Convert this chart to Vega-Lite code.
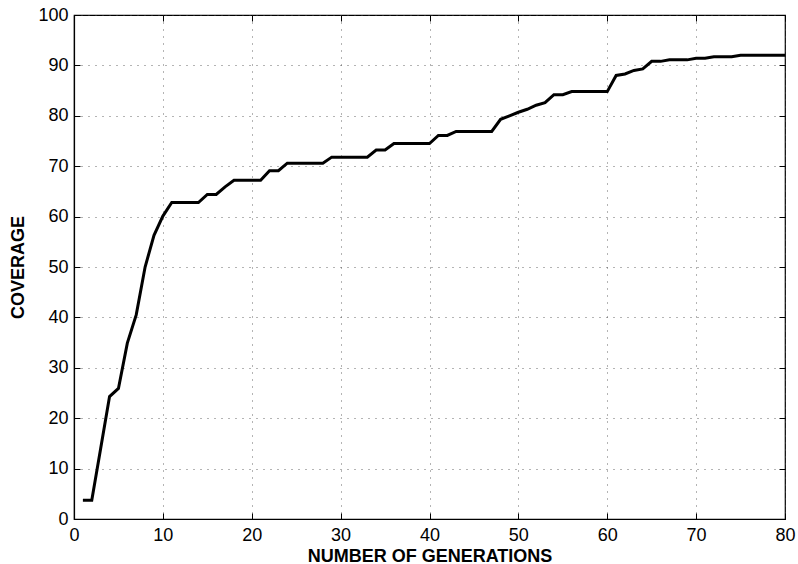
{
  "$schema": "https://vega.github.io/schema/vega-lite/v6.json",
  "width": 711,
  "height": 504,
  "autosize": {"type": "none"},
  "padding": {"left": 74, "top": 15, "right": 13, "bottom": 45},
  "background": "white",
  "config": {
    "view": {"stroke": "black", "strokeWidth": 1.2},
    "font": "Liberation Sans",
    "axis": {
      "domainColor": "black",
      "domainWidth": 1.2,
      "tickColor": "black",
      "tickWidth": 1,
      "tickSize": -6,
      "labelFont": "Liberation Sans",
      "labelFontSize": 18,
      "labelColor": "black",
      "titleFont": "Liberation Sans",
      "titleFontSize": 18,
      "titleFontWeight": "bold",
      "titleColor": "black",
      "gridColor": "#444",
      "gridDash": [1, 6],
      "gridWidth": 1,
      "gridOpacity": 0.8
    }
  },
  "data": {
    "values": [
      {"gen": 1, "cov": 3.7}, {"gen": 2, "cov": 3.7}, {"gen": 3, "cov": 14}, {"gen": 4, "cov": 24.3},
      {"gen": 5, "cov": 25.9}, {"gen": 6, "cov": 34.9}, {"gen": 7, "cov": 40.5}, {"gen": 8, "cov": 50},
      {"gen": 9, "cov": 56.3}, {"gen": 10, "cov": 60.1}, {"gen": 11, "cov": 62.8}, {"gen": 12, "cov": 62.8},
      {"gen": 13, "cov": 62.8}, {"gen": 14, "cov": 62.8}, {"gen": 15, "cov": 64.4}, {"gen": 16, "cov": 64.4},
      {"gen": 17, "cov": 65.9}, {"gen": 18, "cov": 67.2}, {"gen": 19, "cov": 67.2}, {"gen": 20, "cov": 67.2},
      {"gen": 21, "cov": 67.2}, {"gen": 22, "cov": 69.1}, {"gen": 23, "cov": 69.1}, {"gen": 24, "cov": 70.6},
      {"gen": 25, "cov": 70.6}, {"gen": 26, "cov": 70.6}, {"gen": 27, "cov": 70.6}, {"gen": 28, "cov": 70.6},
      {"gen": 29, "cov": 71.8}, {"gen": 30, "cov": 71.8}, {"gen": 31, "cov": 71.8}, {"gen": 32, "cov": 71.8},
      {"gen": 33, "cov": 71.8}, {"gen": 34, "cov": 73.2}, {"gen": 35, "cov": 73.2}, {"gen": 36, "cov": 74.5},
      {"gen": 37, "cov": 74.5}, {"gen": 38, "cov": 74.5}, {"gen": 39, "cov": 74.5}, {"gen": 40, "cov": 74.5},
      {"gen": 41, "cov": 76.1}, {"gen": 42, "cov": 76.1}, {"gen": 43, "cov": 76.9}, {"gen": 44, "cov": 76.9},
      {"gen": 45, "cov": 76.9}, {"gen": 46, "cov": 76.9}, {"gen": 47, "cov": 76.9}, {"gen": 48, "cov": 79.3},
      {"gen": 49, "cov": 80}, {"gen": 50, "cov": 80.7}, {"gen": 51, "cov": 81.3}, {"gen": 52, "cov": 82.1},
      {"gen": 53, "cov": 82.6}, {"gen": 54, "cov": 84.2}, {"gen": 55, "cov": 84.2}, {"gen": 56, "cov": 84.8},
      {"gen": 57, "cov": 84.8}, {"gen": 58, "cov": 84.8}, {"gen": 59, "cov": 84.8}, {"gen": 60, "cov": 84.8},
      {"gen": 61, "cov": 88}, {"gen": 62, "cov": 88.3}, {"gen": 63, "cov": 89}, {"gen": 64, "cov": 89.3},
      {"gen": 65, "cov": 90.8}, {"gen": 66, "cov": 90.8}, {"gen": 67, "cov": 91.1}, {"gen": 68, "cov": 91.1},
      {"gen": 69, "cov": 91.1}, {"gen": 70, "cov": 91.4}, {"gen": 71, "cov": 91.4}, {"gen": 72, "cov": 91.7},
      {"gen": 73, "cov": 91.7}, {"gen": 74, "cov": 91.7}, {"gen": 75, "cov": 92}, {"gen": 76, "cov": 92},
      {"gen": 77, "cov": 92}, {"gen": 78, "cov": 92}, {"gen": 79, "cov": 92}, {"gen": 80, "cov": 92}
    ]
  },
  "layer": [
    {
      "mark": {"type": "line", "color": "black", "strokeWidth": 3, "strokeJoin": "miter"},
      "encoding": {
        "x": {
          "field": "gen", "type": "quantitative",
          "scale": {"domain": [0, 80], "nice": false, "zero": false},
          "axis": {"values": [0, 10, 20, 30, 40, 50, 60, 70, 80], "title": "NUMBER OF GENERATIONS", "labelPadding": 13, "titlePadding": 3, "labelFlush": false}
        },
        "y": {
          "field": "cov", "type": "quantitative",
          "scale": {"domain": [0, 100], "nice": false},
          "axis": {"values": [0, 10, 20, 30, 40, 50, 60, 70, 80, 90, 100], "title": "COVERAGE", "labelPadding": 12, "titlePadding": 10, "labelFlush": false}
        }
      }
    },
    {
      "mark": {"type": "line", "opacity": 0},
      "encoding": {
        "x": {
          "field": "gen", "type": "quantitative",
          "axis": {"orient": "top", "values": [0, 10, 20, 30, 40, 50, 60, 70, 80], "labels": false, "grid": false, "domain": false, "title": null}
        },
        "y": {
          "field": "cov", "type": "quantitative",
          "axis": {"orient": "right", "values": [0, 10, 20, 30, 40, 50, 60, 70, 80, 90, 100], "labels": false, "grid": false, "domain": false, "title": null}
        }
      }
    }
  ],
  "resolve": {"axis": {"x": "independent", "y": "independent"}}
}
